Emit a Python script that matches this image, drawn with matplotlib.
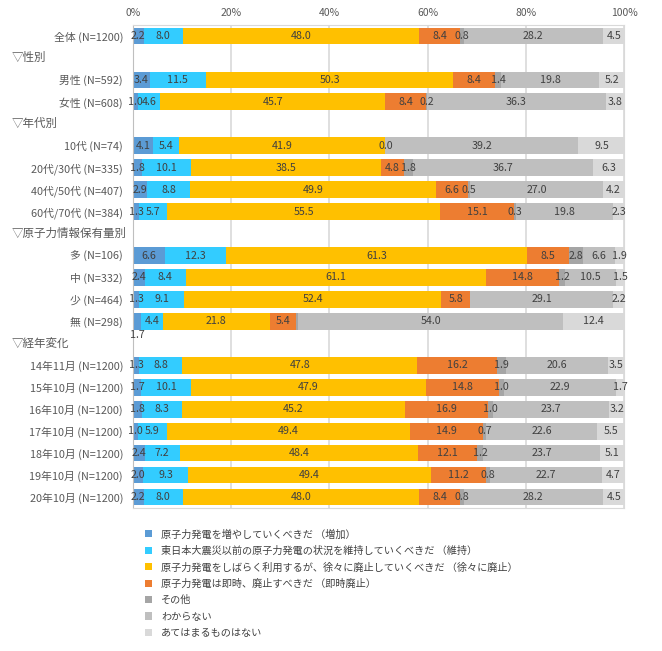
import matplotlib
matplotlib.use("Agg")
import matplotlib.pyplot as plt
import matplotlib.transforms as mtransforms
from matplotlib.patches import Patch
import numpy as np

plt.rcParams['font.family'] = ['Noto Sans CJK JP', 'DejaVu Sans']

# ---- data ----
rows = [
    "全体 (N=1200)",
    "▽性別",
    "男性 (N=592)",
    "女性 (N=608)",
    "▽年代別",
    "10代 (N=74)",
    "20代/30代 (N=335)",
    "40代/50代 (N=407)",
    "60代/70代 (N=384)",
    "▽原子力情報保有量別",
    "多 (N=106)",
    "中 (N=332)",
    "少 (N=464)",
    "無 (N=298)",
    "▽経年変化",
    "14年11月 (N=1200)",
    "15年10月 (N=1200)",
    "16年10月 (N=1200)",
    "17年10月 (N=1200)",
    "18年10月 (N=1200)",
    "19年10月 (N=1200)",
    "20年10月 (N=1200)",
]
is_header = [r.startswith("▽") for r in rows]

series_names = [
    "原子力発電を増やしていくべきだ （増加）",
    "東日本大震災以前の原子力発電の状況を維持していくべきだ （維持）",
    "原子力発電をしばらく利用するが、徐々に廃止していくべきだ （徐々に廃止）",
    "原子力発電は即時、廃止すべきだ （即時廃止）",
    "その他",
    "わからない",
    "あてはまるものはない",
]
colors = ["#5B9BD5", "#33CCFF", "#FFC000", "#ED7D31", "#A5A5A5", "#BFBFBF", "#D9D9D9"]

# values per data row (headers are None)
zouka    = [2.2, None, 3.4, 1.0, None, 4.1, 1.8, 2.9, 1.3, None, 6.6, 2.4, 1.3, 1.7, None, 1.3, 1.7, 1.8, 1.0, 2.4, 2.0, 2.2]
iji      = [8.0, None, 11.5, 4.6, None, 5.4, 10.1, 8.8, 5.7, None, 12.3, 8.4, 9.1, 4.4, None, 8.8, 10.1, 8.3, 5.9, 7.2, 9.3, 8.0]
jojo     = [48.0, None, 50.3, 45.7, None, 41.9, 38.5, 49.9, 55.5, None, 61.3, 61.1, 52.4, 21.8, None, 47.8, 47.9, 45.2, 49.4, 48.4, 49.4, 48.0]
sokuji   = [8.4, None, 8.4, 8.4, None, 0.0, 4.8, 6.6, 15.1, None, 8.5, 14.8, 5.8, 5.4, None, 16.2, 14.8, 16.9, 14.9, 12.1, 11.2, 8.4]
sonota   = [0.8, None, 1.4, 0.2, None, 0.0, 1.8, 0.5, 0.3, None, 2.8, 1.2, 0.1, 0.3, None, 1.9, 1.0, 1.0, 0.7, 1.2, 0.8, 0.8]
wakaranai= [28.2, None, 19.8, 36.3, None, 39.2, 36.7, 27.0, 19.8, None, 6.6, 10.5, 29.1, 54.0, None, 20.6, 22.9, 23.7, 22.6, 23.7, 22.7, 28.2]
atehama  = [4.5, None, 5.2, 3.8, None, 9.5, 6.3, 4.2, 2.3, None, 1.9, 1.5, 2.2, 12.4, None, 3.5, 1.7, 3.2, 5.5, 5.1, 4.7, 4.5]
series = [zouka, iji, jojo, sokuji, sonota, wakaranai, atehama]

# labels that are not shown (row index, series index)
hidden_labels = {(5, 3), (12, 4), (13, 4)}
# labels drawn below the bar
below_labels = {(13, 0)}

# ---- figure ----
W, H = 662, 651
fig = plt.figure(figsize=(W / 100, H / 100), dpi=100)
ax = fig.add_axes([132.8 / W, 1 - 508 / H, (624.3 - 132.8) / W, (508 - 25) / H])

n = len(rows)
ypos = np.arange(n)
left = np.zeros(n)
for si, (vals, col) in enumerate(zip(series, colors)):
    v = np.array([0.0 if x is None else x for x in vals])
    ax.barh(ypos, v, left=left, height=0.76, color=col, edgecolor='none', zorder=2,
            label=series_names[si])
    for ri in range(n):
        if vals[ri] is None or (ri, si) in hidden_labels:
            continue
        cx = left[ri] + v[ri] / 2
        cy = ypos[ri] + (0.62 if (ri, si) in below_labels else 0)
        ax.text(cx, cy, f"{vals[ri]:.1f}", ha='center', va='center',
                fontsize=7.7, color='#404040', zorder=3)
    left = left + v

ax.set_xlim(0, 100)
ax.set_ylim(n - 0.5, -0.5)
ax.set_xticks([0, 20, 40, 60, 80, 100])
ax.set_xticklabels(["0%", "20%", "40%", "60%", "80%", "100%"])
ax.xaxis.tick_top()
ax.tick_params(axis='x', length=0, labelsize=7.5, labelcolor='#595959', pad=5)
ax.grid(axis='x', color='#D9D9D9', linewidth=1.2, zorder=0)
ax.set_axisbelow(True)

data_idx = [i for i in range(n) if not is_header[i]]
ax.set_yticks(data_idx)
ax.set_yticklabels([rows[i] for i in data_idx])
ax.tick_params(axis='y', length=0, labelsize=7.8, labelcolor='#595959', pad=7)

trans = mtransforms.blended_transform_factory(fig.transFigure, ax.transData)
for i in range(n):
    if is_header[i]:
        ax.text(12 / W, i, rows[i], transform=trans, ha='left', va='center',
                fontsize=8.3, color='#595959')

for s in ['top', 'right', 'bottom']:
    ax.spines[s].set_color('#D9D9D9')
ax.spines['left'].set_color('#BFBFBF')

handles = [Patch(facecolor=c, edgecolor='none') for c in colors]
fig.legend(handles, series_names, loc='upper left',
           bbox_to_anchor=(136 / W, 1 - 520 / H), frameon=False,
           fontsize=7.3, handlelength=0.7, handleheight=0.7,
           handletextpad=0.9, labelspacing=0.62, labelcolor='#404040')

fig.savefig("out.png", dpi=100)
